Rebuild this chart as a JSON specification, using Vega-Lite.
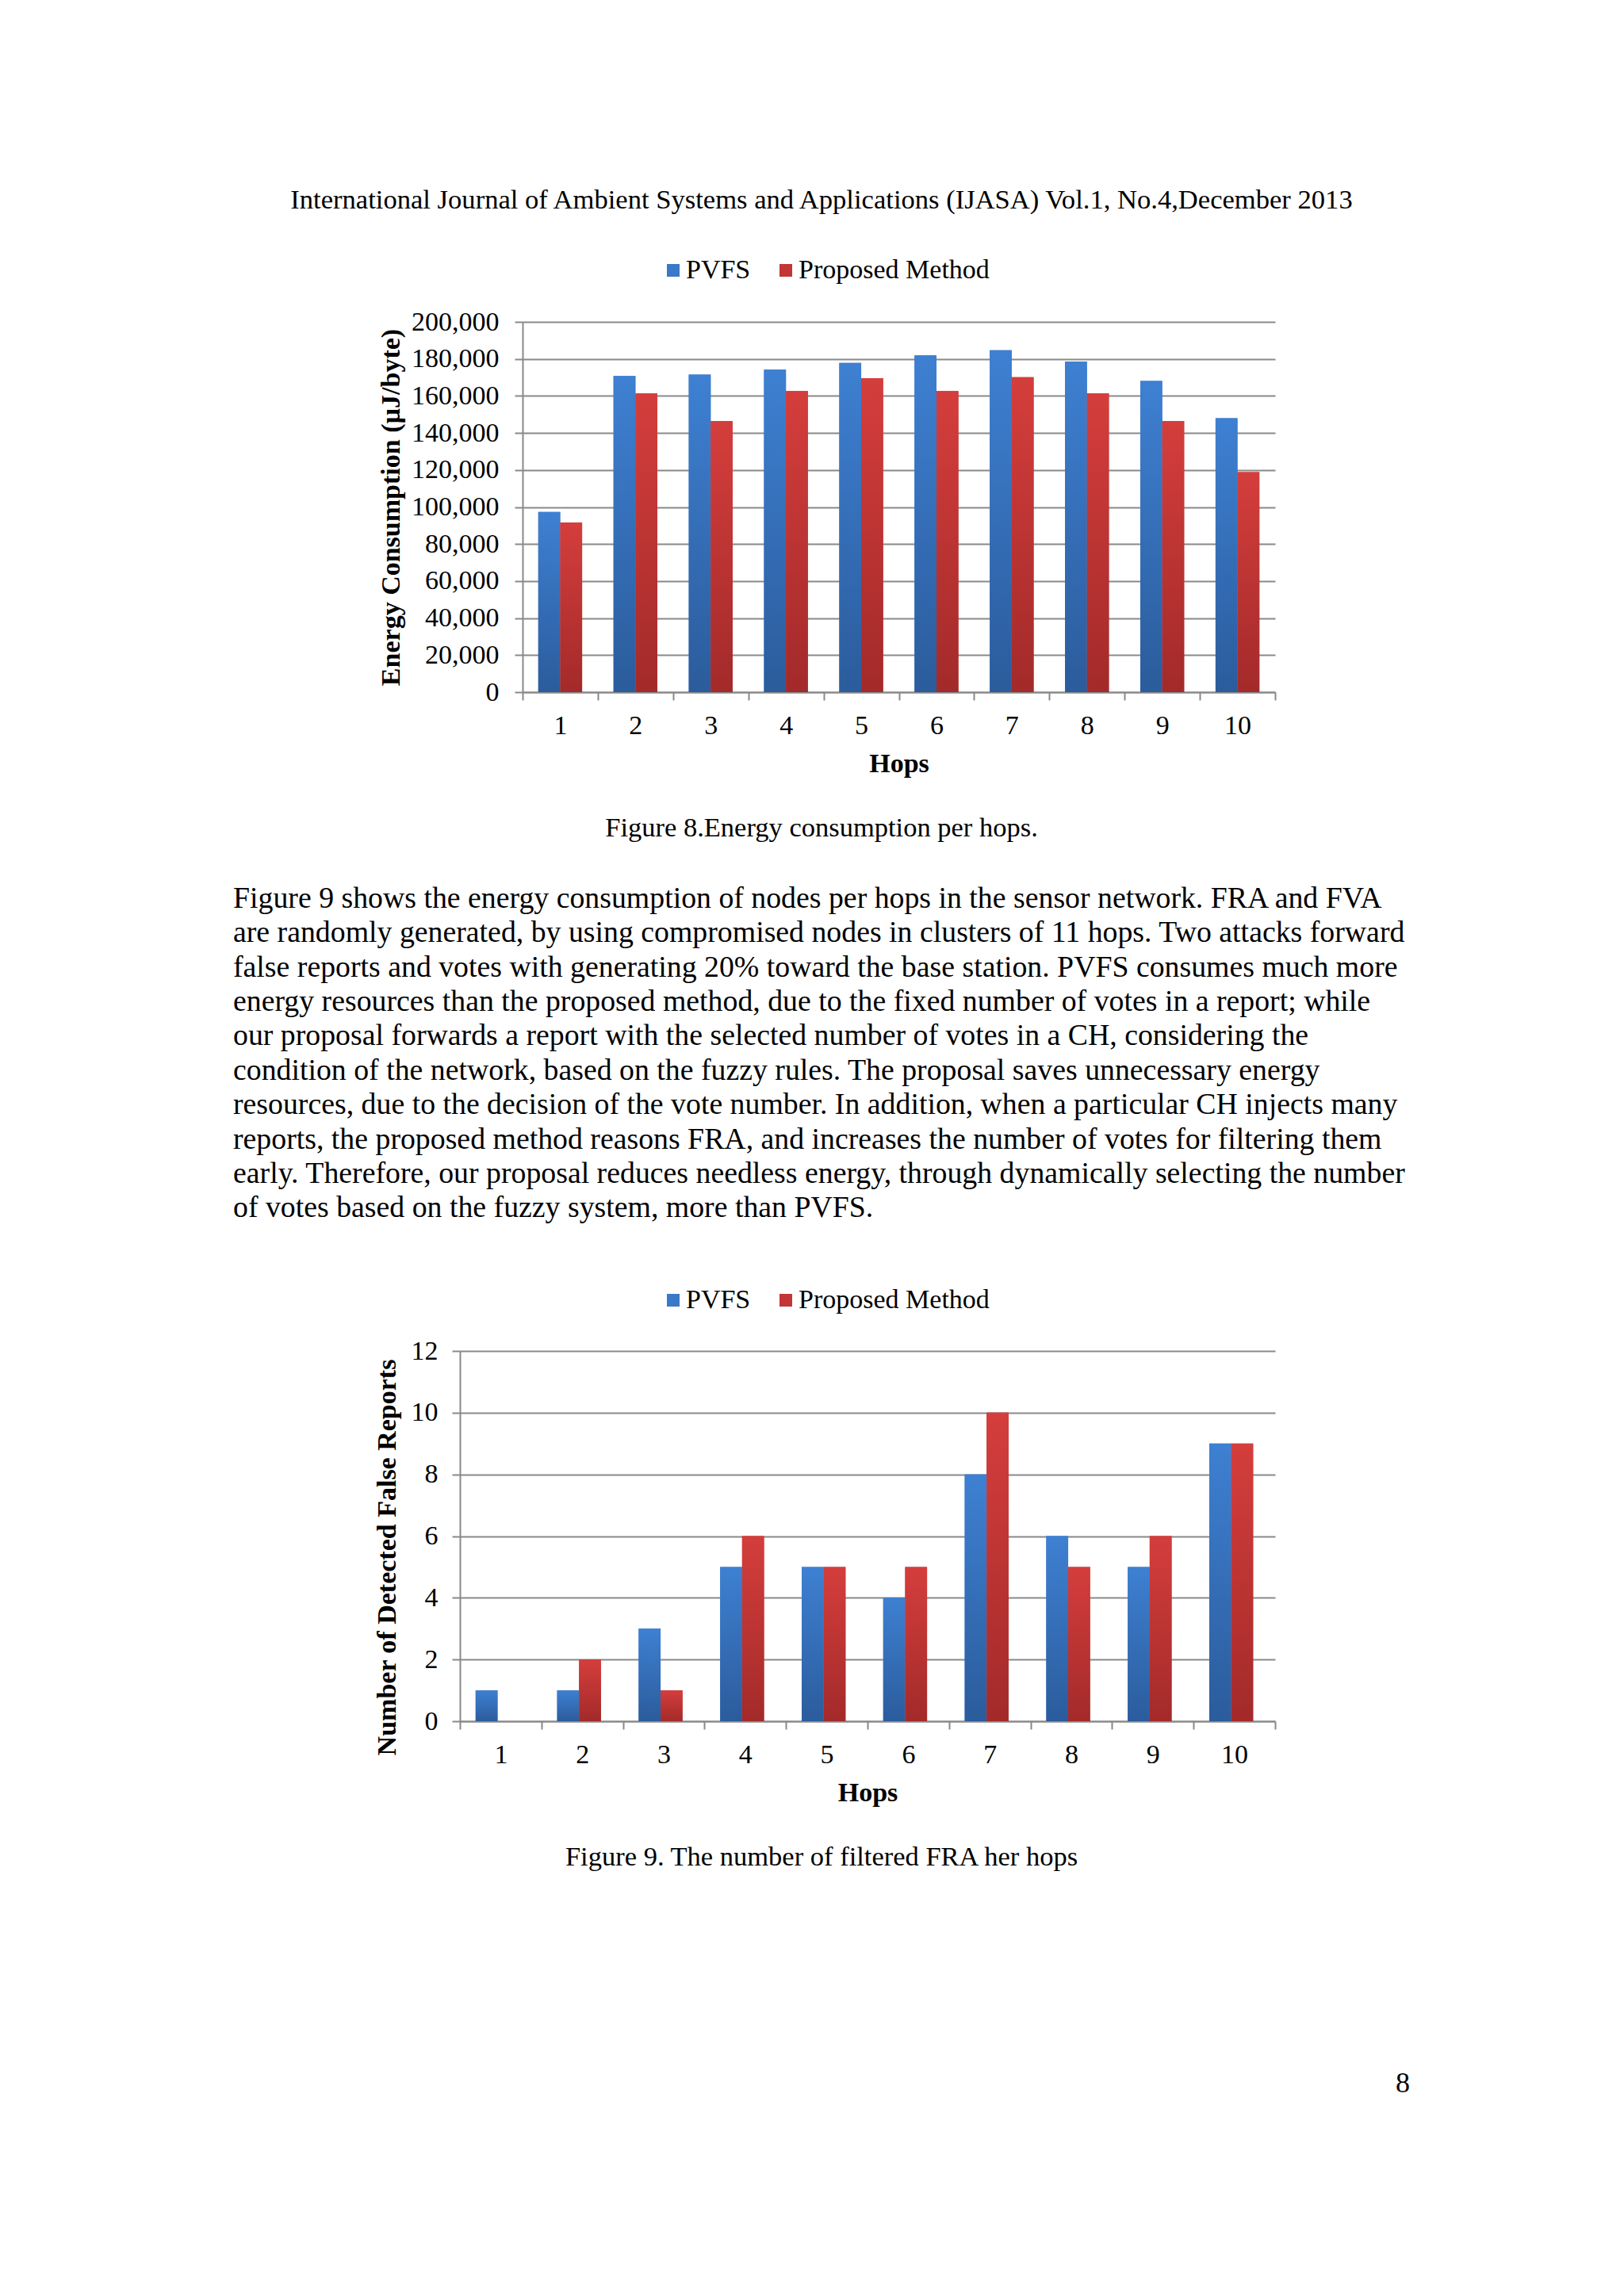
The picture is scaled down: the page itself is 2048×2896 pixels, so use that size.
{
  "$schema": "https://vega.github.io/schema/vega-lite/v6.json",
  "padding": {"left": 294, "top": 231, "right": 0, "bottom": 0},
  "autosize": {"type": "pad"},
  "background": "white",
  "bounds": "flush",
  "spacing": 0,
  "resolve": {"scale": {"color": "independent"}, "legend": {"color": "independent"}},
  "config": {
    "font": "Liberation Serif",
    "view": {"stroke": null},
    "text": {"font": "Liberation Serif", "fontSize": 34, "color": "#000000"}
  },
  "datasets": {
    "energy": [
      {"hop": 1, "series": "PVFS", "value": 97300},
      {"hop": 1, "series": "Proposed Method", "value": 91700},
      {"hop": 2, "series": "PVFS", "value": 170800},
      {"hop": 2, "series": "Proposed Method", "value": 161400},
      {"hop": 3, "series": "PVFS", "value": 171500},
      {"hop": 3, "series": "Proposed Method", "value": 146500},
      {"hop": 4, "series": "PVFS", "value": 174200},
      {"hop": 4, "series": "Proposed Method", "value": 162600},
      {"hop": 5, "series": "PVFS", "value": 177800},
      {"hop": 5, "series": "Proposed Method", "value": 169600},
      {"hop": 6, "series": "PVFS", "value": 181900},
      {"hop": 6, "series": "Proposed Method", "value": 162600},
      {"hop": 7, "series": "PVFS", "value": 184700},
      {"hop": 7, "series": "Proposed Method", "value": 170100},
      {"hop": 8, "series": "PVFS", "value": 178600},
      {"hop": 8, "series": "Proposed Method", "value": 161400},
      {"hop": 9, "series": "PVFS", "value": 168100},
      {"hop": 9, "series": "Proposed Method", "value": 146500},
      {"hop": 10, "series": "PVFS", "value": 148000},
      {"hop": 10, "series": "Proposed Method", "value": 118800}
    ],
    "reports": [
      {"hop": 1, "series": "PVFS", "value": 1},
      {"hop": 1, "series": "Proposed Method", "value": 0},
      {"hop": 2, "series": "PVFS", "value": 1},
      {"hop": 2, "series": "Proposed Method", "value": 2},
      {"hop": 3, "series": "PVFS", "value": 3},
      {"hop": 3, "series": "Proposed Method", "value": 1},
      {"hop": 4, "series": "PVFS", "value": 5},
      {"hop": 4, "series": "Proposed Method", "value": 6},
      {"hop": 5, "series": "PVFS", "value": 5},
      {"hop": 5, "series": "Proposed Method", "value": 5},
      {"hop": 6, "series": "PVFS", "value": 4},
      {"hop": 6, "series": "Proposed Method", "value": 5},
      {"hop": 7, "series": "PVFS", "value": 8},
      {"hop": 7, "series": "Proposed Method", "value": 10},
      {"hop": 8, "series": "PVFS", "value": 6},
      {"hop": 8, "series": "Proposed Method", "value": 5},
      {"hop": 9, "series": "PVFS", "value": 5},
      {"hop": 9, "series": "Proposed Method", "value": 6},
      {"hop": 10, "series": "PVFS", "value": 9},
      {"hop": 10, "series": "Proposed Method", "value": 9}
    ],
    "paragraph": [
      {"line": 1, "text": "Figure 9 shows the energy consumption of nodes per hops in the sensor network. FRA and FVA"},
      {"line": 2, "text": "are randomly generated, by using compromised nodes in clusters of 11 hops. Two attacks forward"},
      {"line": 3, "text": "false reports and votes with generating 20% toward the base station. PVFS consumes much more"},
      {"line": 4, "text": "energy resources than the proposed method, due to the fixed number of votes in a report; while"},
      {"line": 5, "text": "our proposal forwards a report with the selected number of votes in a CH, considering the"},
      {"line": 6, "text": "condition of the network, based on the fuzzy rules. The proposal saves unnecessary energy"},
      {"line": 7, "text": "resources, due to the decision of the vote number. In addition, when a particular CH injects many"},
      {"line": 8, "text": "reports, the proposed method reasons FRA, and increases the number of votes for filtering them"},
      {"line": 9, "text": "early. Therefore, our proposal reduces needless energy, through dynamically selecting the number"},
      {"line": 10, "text": "of votes based on the fuzzy system, more than PVFS."}
    ]
  },
  "vconcat": [
    {
      "width": 1484, "height": 44,
      "data": {"values": [{"text": "International Journal of Ambient Systems and Applications (IJASA) Vol.1, No.4,December 2013"}]},
      "mark": {"type": "text", "align": "center", "baseline": "middle", "font": "Liberation Serif", "fontSize": 34.6, "color": "#000000"},
      "encoding": {"text": {"field": "text"}}
    },
    {"width": 1, "height": 131, "data": {"values": []}, "mark": "point"},
    {
      "width": 1314, "height": 467,
      "data": {"name": "energy"},
      "encoding": {
        "x": {
          "field": "hop", "type": "ordinal", "title": "Hops",
          "scale": {"range": [365, 1314], "paddingInner": 0, "paddingOuter": 0},
          "axis": {"labelAngle": 0, "tickBand": "extent", "tickSize": 10, "tickColor": "#898989", "tickWidth": 2, "domainColor": "#898989", "domainWidth": 2, "labelFontSize": 34, "labelFont": "Liberation Serif", "labelColor": "#000000", "labelPadding": 15, "titleFontSize": 34, "titleFont": "Liberation Serif", "titleFontWeight": "bold", "titleColor": "#000000", "titlePadding": 14, "grid": false}
        },
        "xOffset": {"field": "series", "type": "nominal", "scale": {"domain": ["PVFS", "Proposed Method"], "paddingInner": 0, "paddingOuter": 0.716}},
        "y": {
          "field": "value", "type": "quantitative", "title": "Energy Consumption  (µJ/byte)",
          "scale": {"domain": [0, 200000], "nice": false},
          "axis": {"offset": -365, "tickCount": 10, "format": ",d", "grid": true, "gridColor": "#898989", "gridWidth": 2, "tickSize": 10, "tickColor": "#898989", "tickWidth": 2, "domainColor": "#898989", "domainWidth": 2, "labelFontSize": 34, "labelFont": "Liberation Serif", "labelPadding": 20, "labelColor": "#000000", "titleFontSize": 34, "titleFont": "Liberation Serif", "titleFontWeight": "bold", "titlePadding": 8, "titleColor": "#000000"}
        }
      },
      "layer": [
        {
          "mark": {"type": "bar"},
          "encoding": {
            "color": {
              "field": "series", "type": "nominal",
              "scale": {"domain": ["PVFS", "Proposed Method"], "range": ["#3A78C8", "#C43535"]},
              "legend": {"orient": "none", "legendX": 538, "legendY": -82, "direction": "horizontal", "title": null, "labelFontSize": 34, "labelFont": "Liberation Serif", "labelColor": "#000000", "labelLimit": 400, "symbolType": "square", "symbolSize": 256, "symbolStrokeWidth": 0, "symbolOpacity": 1, "labelOffset": -1, "columnPadding": 27}
            }
          }
        },
        {
          "transform": [{"filter": "datum.series === 'PVFS'"}],
          "mark": {"type": "bar", "fill": {"gradient": "linear", "x1": 0, "y1": 0, "x2": 0, "y2": 1, "stops": [{"offset": 0, "color": "#3E80D2"}, {"offset": 1, "color": "#2B5C9C"}]}}
        },
        {
          "transform": [{"filter": "datum.series === 'Proposed Method'"}],
          "mark": {"type": "bar", "fill": {"gradient": "linear", "x1": 0, "y1": 0, "x2": 0, "y2": 1, "stops": [{"offset": 0, "color": "#D43E3C"}, {"offset": 1, "color": "#A32A2A"}]}}
        }
      ]
    },
    {"width": 1, "height": 150, "data": {"values": []}, "mark": "point"},
    {
      "width": 1484, "height": 44,
      "data": {"values": [{"text": "Figure 8.Energy consumption per hops."}]},
      "mark": {"type": "text", "align": "center", "baseline": "middle", "font": "Liberation Serif", "fontSize": 34.5, "color": "#000000"},
      "encoding": {"text": {"field": "text"}}
    },
    {"width": 1, "height": 45, "data": {"values": []}, "mark": "point"},
    {
      "width": 1484, "height": 434,
      "data": {"name": "paragraph"},
      "mark": {"type": "text", "align": "left", "baseline": "middle", "font": "Liberation Serif", "fontSize": 37.8, "color": "#000000"},
      "encoding": {
        "x": {"datum": 0, "type": "quantitative", "scale": {"domain": [0, 1]}, "axis": null},
        "y": {"field": "line", "type": "ordinal", "axis": null},
        "text": {"field": "text"}
      }
    },
    {"width": 1, "height": 158, "data": {"values": []}, "mark": "point"},
    {
      "width": 1314, "height": 467,
      "data": {"name": "reports"},
      "encoding": {
        "x": {
          "field": "hop", "type": "ordinal", "title": "Hops",
          "scale": {"range": [286, 1314], "paddingInner": 0, "paddingOuter": 0},
          "axis": {"labelAngle": 0, "tickBand": "extent", "tickSize": 10, "tickColor": "#898989", "tickWidth": 2, "domainColor": "#898989", "domainWidth": 2, "labelFontSize": 34, "labelFont": "Liberation Serif", "labelColor": "#000000", "labelPadding": 15, "titleFontSize": 34, "titleFont": "Liberation Serif", "titleFontWeight": "bold", "titleColor": "#000000", "titlePadding": 14, "grid": false}
        },
        "xOffset": {"field": "series", "type": "nominal", "scale": {"domain": ["PVFS", "Proposed Method"], "paddingInner": 0, "paddingOuter": 0.77}},
        "y": {
          "field": "value", "type": "quantitative", "title": "Number of Detected False Reports",
          "scale": {"domain": [0, 12], "nice": false},
          "axis": {"offset": -286, "tickCount": 6, "format": "d", "grid": true, "gridColor": "#898989", "gridWidth": 2, "tickSize": 10, "tickColor": "#898989", "tickWidth": 2, "domainColor": "#898989", "domainWidth": 2, "labelFontSize": 34, "labelFont": "Liberation Serif", "labelPadding": 18, "labelColor": "#000000", "titleFontSize": 34, "titleFont": "Liberation Serif", "titleFontWeight": "bold", "titlePadding": 13, "titleColor": "#000000", "titleY": 260}
        }
      },
      "layer": [
        {
          "mark": {"type": "bar"},
          "encoding": {
            "color": {
              "field": "series", "type": "nominal",
              "scale": {"domain": ["PVFS", "Proposed Method"], "range": ["#3A78C8", "#C43535"]},
              "legend": {"orient": "none", "legendX": 538, "legendY": -81, "direction": "horizontal", "title": null, "labelFontSize": 34, "labelFont": "Liberation Serif", "labelColor": "#000000", "labelLimit": 400, "symbolType": "square", "symbolSize": 256, "symbolStrokeWidth": 0, "symbolOpacity": 1, "labelOffset": -1, "columnPadding": 27}
            }
          }
        },
        {
          "transform": [{"filter": "datum.series === 'PVFS'"}],
          "mark": {"type": "bar", "fill": {"gradient": "linear", "x1": 0, "y1": 0, "x2": 0, "y2": 1, "stops": [{"offset": 0, "color": "#3E80D2"}, {"offset": 1, "color": "#2B5C9C"}]}}
        },
        {
          "transform": [{"filter": "datum.series === 'Proposed Method'"}],
          "mark": {"type": "bar", "fill": {"gradient": "linear", "x1": 0, "y1": 0, "x2": 0, "y2": 1, "stops": [{"offset": 0, "color": "#D43E3C"}, {"offset": 1, "color": "#A32A2A"}]}}
        }
      ]
    },
    {"width": 1, "height": 150, "data": {"values": []}, "mark": "point"},
    {
      "width": 1484, "height": 44,
      "data": {"values": [{"text": "Figure 9. The number of filtered FRA her hops"}]},
      "mark": {"type": "text", "align": "center", "baseline": "middle", "font": "Liberation Serif", "fontSize": 34.5, "color": "#000000"},
      "encoding": {"text": {"field": "text"}}
    },
    {"width": 1, "height": 241, "data": {"values": []}, "mark": "point"},
    {
      "width": 1484, "height": 44,
      "data": {"values": [{"text": "8"}]},
      "mark": {"type": "text", "align": "right", "baseline": "middle", "font": "Liberation Serif", "fontSize": 36, "color": "#000000"},
      "encoding": {
        "x": {"datum": 1, "type": "quantitative", "scale": {"domain": [0, 1]}, "axis": null},
        "text": {"field": "text"}
      }
    }
  ]
}
